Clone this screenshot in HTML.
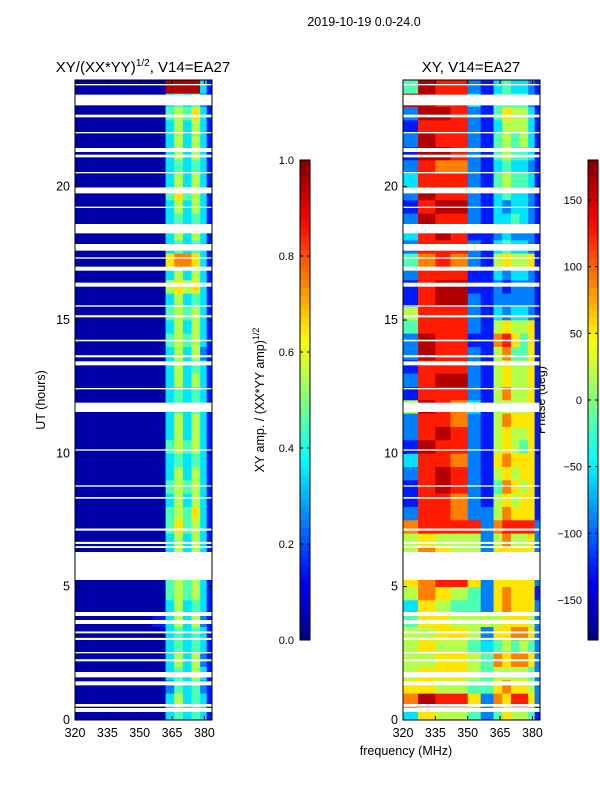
<!DOCTYPE html>
<html><head><meta charset="utf-8">
<style>
body{margin:0;background:#fff;}
svg{display:block;font-family:"Liberation Sans",sans-serif;}
</style></head>
<body>
<svg id="fig" width="600" height="800" viewBox="0 0 600 800">
<rect width="600" height="800" fill="#fff"/>
<text x="364" y="26" font-size="12.5" text-anchor="middle">2019-10-19 0.0-24.0</text>
<text x="143" y="72" font-size="15" text-anchor="middle">XY/(XX*YY)<tspan font-size="10" dy="-6">1/2</tspan><tspan dy="6">, V14=EA27</tspan></text>
<text x="471" y="72" font-size="15" text-anchor="middle">XY, V14=EA27</text>
<text x="406" y="755" font-size="12.5" text-anchor="middle">frequency (MHz)</text>
<text transform="translate(45,400) rotate(-90)" font-size="12.5" text-anchor="middle">UT (hours)</text>
<text transform="translate(264,400) rotate(-90)" font-size="12.5" text-anchor="middle">XY amp. / (XX*YY amp)<tspan font-size="9" dy="-5">1/2</tspan></text>
<text transform="translate(545,400) rotate(-90)" font-size="12.5" text-anchor="middle">Phase (deg)</text>
<g id="left"></g>
<g id="right"></g>
<g id="cb1"></g>
<g id="cb2"></g>
</svg>
<script>
const freqEdges=[320,327,335,342,350,356,362,366,370,374,378,381,383.5];
const xTicks=[320,335,350,365,380];
const yTicks=[0,5,10,15,20];
const ampTicks=[0.0,0.2,0.4,0.6,0.8,1.0];
const phaseTicks=[-150,-100,-50,0,50,100,150];
const rowHours=0.5;
const ampRows=["000000343431","000000353431","000000243421","000000343531","000000353521","000000343431","000000343431","000001353521","000000353431","000000454531","000000454531","000000353431","000000353531","000000353531","000000464531","000000454631","000000353531","000000454531","000000353531","000000343431","000000454531","000000353531","000000353531","000000343431","000000343431","000000353531","000000353431","000000353521","000000454531","000000353531","000000454531","000000353431","000000565631","000000353531","000000677631","000000343431","000000353531","000000343431","000000353531","000000464531","000000353531","000000343431","000000353531","000000353531","000000353531","000000454631","000000343421","000000999931"];
const phaseRows=["365542465541","798862768862","665544676652","566654555542","556654767762","565543454542","556652667762","466555566652","365442676662","576542676661","678862666662","566642666662","576552666662","565552575562","788882788882","288722576661","188721565661","189821476561","289821565661","388721676661","198821565461","289821565561","288721576661","598731555561","188821575561","289921565561","188821565561","298821574461","298811786461","488821565561","588821323321","189921222221","189911212221","288811323321","478721565561","288821343321","389811232221","298821334321","189921323321","298821343321","388821454431","287721343321","199821454431","298821454531","188821355531","299821465531","998831444421","498821343321"];
const gaps=[[0.3,0.45],[0.5,0.6],[1.3,1.45],[1.6,1.8],[2.2,2.28],[2.5,2.55],[3.0,3.08],[3.25,3.32],[3.6,3.75],[3.9,4.05],[5.25,6.3],[6.45,6.52],[6.6,6.68],[7.1,7.18],[8.3,8.36],[8.75,8.8],[10.1,10.15],[11.55,11.9],[12.4,12.45],[13.3,13.45],[13.6,13.68],[14.2,14.26],[15.1,15.18],[15.5,15.55],[16.25,16.4],[16.85,17.0],[17.3,17.35],[17.6,17.85],[18.25,18.6],[19.2,19.25],[19.75,19.97],[20.5,20.55],[21.1,21.2],[21.3,21.45],[22.0,22.05],[22.6,22.7],[23.05,23.45],[23.8,23.85]];

const NS="http://www.w3.org/2000/svg";
function mk(tag,attrs,parent){const e=document.createElementNS(NS,tag);for(const k in attrs)e.setAttribute(k,attrs[k]);parent.appendChild(e);return e;}
function jet(v){v=Math.max(0,Math.min(1,v));
 const f=t=>Math.max(0,Math.min(1,t));
 const r=f(1.5-Math.abs(4*v-3)),g=f(1.5-Math.abs(4*v-2)),b=f(1.5-Math.abs(4*v-1));
 return `rgb(${Math.round(r*255)},${Math.round(g*255)},${Math.round(b*255)})`;}
const Y0=80,Y1=720,T0=0,T1=24;
const ys=h=>Y1-(h-T0)/(T1-T0)*(Y1-Y0);

function panel(id,left,rows,base){
 const g=document.getElementById(id);
 const F0=320,F1=383.5,W=137;
 const xs=f=>left+(f-F0)/(F1-F0)*W;
 rows.forEach((row,r)=>{
  for(let c=0;c<freqEdges.length-1;c++){
   const d=parseInt(row[c]);
   const v=d===0?base:(d+0.5)/10;
   const x0=xs(freqEdges[c]),x1=xs(freqEdges[c+1]);
   const yT=ys((r+1)*rowHours),yB=ys(r*rowHours);
   const rc=mk('rect',{x:x0,y:yT,width:x1-x0+0.3,height:yB-yT+0.3,fill:jet(v)},g);
   
   
  }
 });
 gaps.forEach(gp=>{
  const rc=mk('rect',{x:left,y:ys(gp[1]),width:W,height:ys(gp[0])-ys(gp[1]),fill:'#fff'},g);
  
  
 });
 const fr=mk('rect',{x:left,y:Y0,width:W,height:Y1-Y0,fill:'none',stroke:'#000','stroke-width':1},g);
 
 
 xTicks.forEach(t=>{
  const x=xs(t);
  mk('line',{x1:x,x2:x,y1:Y1,y2:Y1-4,stroke:'#000'},g);
  mk('line',{x1:x,x2:x,y1:Y0,y2:Y0+4,stroke:'#000'},g);
  const tx=mk('text',{x:x,y:Y1+17,'font-size':12.5,'text-anchor':'middle'},g);
  tx.textContent=t;
  
  
 });
 yTicks.forEach(t=>{
  const y=ys(t);
  mk('line',{x1:left,x2:left+4,y1:y,y2:y,stroke:'#000'},g);
  mk('line',{x1:left+W,x2:left+W-4,y1:y,y2:y,stroke:'#000'},g);
  const tx=mk('text',{x:left-5,y:y+4,'font-size':12.5,'text-anchor':'end'},g);
  tx.textContent=t;
  
  
 });
}
panel('left',75,ampRows,0.04);
panel('right',403,phaseRows,0.05);

function colorbar(id,x,vmin,vmax,ticks,fmt){
 const g=document.getElementById(id);
 const top=160,bot=640,w=10;
 const n=64;
 for(let i=0;i<n;i++){
  const rc=mk('rect',{x:x,y:bot-(i+1)*(bot-top)/n,width:w,height:(bot-top)/n+0.5,fill:jet((i+0.5)/n)},g);
  
  
 }
 mk('rect',{x:x,y:top,width:w,height:bot-top,fill:'none',stroke:'#000'},g);
 ticks.forEach(t=>{
  const y=bot-(t-vmin)/(vmax-vmin)*(bot-top);
  mk('line',{x1:x,x2:x+3,y1:y,y2:y,stroke:'#000'},g);
  mk('line',{x1:x+w,x2:x+w-3,y1:y,y2:y,stroke:'#000'},g);
  const tx=mk('text',{x:x-6,y:y+4,'font-size':11,'text-anchor':'end'},g);
  tx.textContent=fmt(t);
  
  
 });
}
colorbar('cb1',300,0,1,ampTicks,t=>t.toFixed(1));
colorbar('cb2',588,-180,180,phaseTicks,t=>t<0?'\u2212'+(-t):String(t));
</script>
</body></html>
